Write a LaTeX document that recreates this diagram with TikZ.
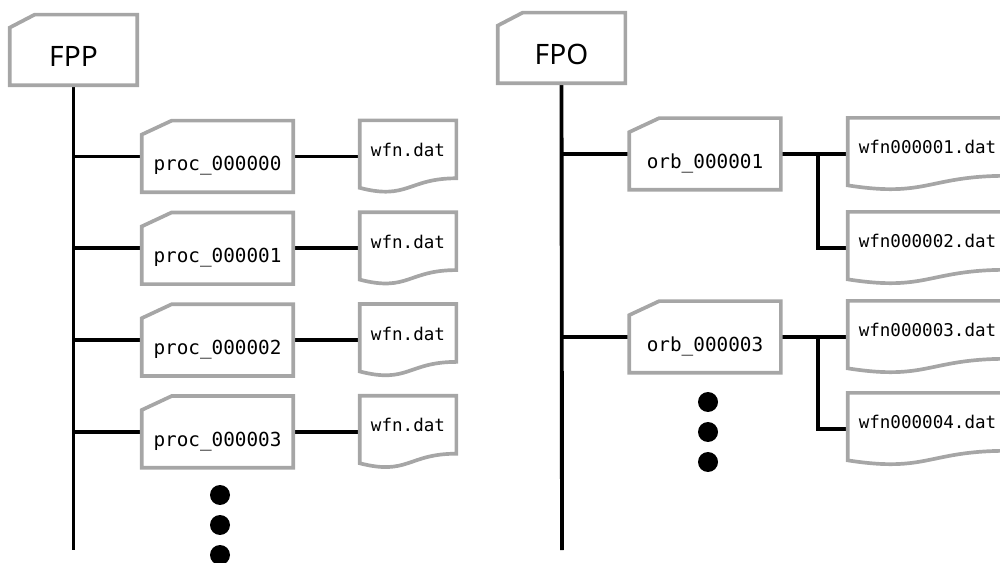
\documentclass[tikz,border=0pt]{standalone}
\usepackage{fontspec}
\setmainfont{Noto Sans}
\setmonofont{DejaVu Sans Mono}
\usepackage{xcolor}
\usepackage{tikz}
\usetikzlibrary{calc}
\definecolor{boxgray}{HTML}{A6A6A6}

\begin{document}
\begin{tikzpicture}[x=0.02cm,y=-0.02cm,link/.style={line width=2.2pt,black},outline/.style={line width=2.1pt,boxgray},top/.style={minimum width=2.54cm,minimum height=1.4cm,inner sep=0pt,font=\fontsize{16}{19}\selectfont,text height=19.3pt,text depth=0pt},folder/.style={minimum width=3.02cm,minimum height=1.42cm,inner sep=0pt,font=\ttfamily\fontsize{11}{13}\selectfont,text height=18.9pt,text depth=2.5pt},file/.style={minimum height=1.43cm,inner sep=0pt,font=\ttfamily\fontsize{10}{12}\selectfont,text height=7pt,text depth=7pt},dot/.style={circle,fill=black,minimum size=0.4cm,inner sep=0pt}]
\useasboundingbox (0,0) rectangle (1000,563);
\clip (0,0) rectangle (1000,563);
\node[top] (fpp) at (73.5,50) {FPP};
\node[top] (fpo) at (561.5,48) {FPO};
\coordinate (fppend) at (73.5,550);
\coordinate (fpoend) at (562,550);
\draw[link] (fpp.south) -- (fppend);
\draw[link] (fpo.south) -- (fpoend);
\foreach \i in {0,...,3} {
   \node[folder] (p\i) at (217.5,156.5+91.8*\i) {proc\_00000\i};
   \node[file,minimum width=1.92cm] (d\i) at (408,156.5+91.8*\i) {wfn.dat};
   \draw[link] (p\i.west -| fpp.south) -- (p\i.west);
   \draw[link] (p\i) -- (d\i);
}
\node[folder] (o1) at (705,154) {orb\_000001};
\node[folder] (o3) at (705,337) {orb\_000003};
\foreach \i/\y in {1/154,2/248,3/337,4/429} {
   \node[file,minimum width=3.18cm] (w\i) at (927.5,\y) {wfn00000\i.dat};
}
\draw[link] (o1.west -| fpo.south) -- (o1.west);
\draw[link] (o3.west -| fpo.south) -- (o3.west);
\draw[link] (o1) -- (w1);
\draw[link] ($(o1.east)!0.55!(w1.west)$) |- (w2.west);
\draw[link] (o3) -- (w3);
\draw[link] ($(o3.east)!0.55!(w3.west)$) |- (w4.west);
\foreach \n/\cx/\cy in {fpp/0.5/0.26,fpo/0.5/0.26,p0/0.6/0.28,p1/0.6/0.28,p2/0.6/0.28,p3/0.6/0.28,o1/0.6/0.28,o3/0.6/0.28} {
   \draw[outline] ([yshift=-\cy cm]\n.north west) -- ([xshift=\cx cm]\n.north west) -- (\n.north east) -- (\n.south east) -- (\n.south west) -- cycle;
}
\foreach \n in {d0,d1,d2,d3,w1,w2,w3,w4} {
   \draw[outline] (\n.north west) -- (\n.north east) -- ($(\n.north east)!0.802!(\n.south east)$) .. controls ($(\n.north)!0.802!(\n.south)$) and ($(\n.north)!1.1075!(\n.south)$) .. ($(\n.north west)!0.934!(\n.south west)$) -- cycle;
}
\foreach \y in {495,525,555} {
   \node[dot] (pdot\y) at (220,\y) {};
   \node[dot] (odot\y) at (708,\y-93) {};
}
\end{tikzpicture}
\end{document}
